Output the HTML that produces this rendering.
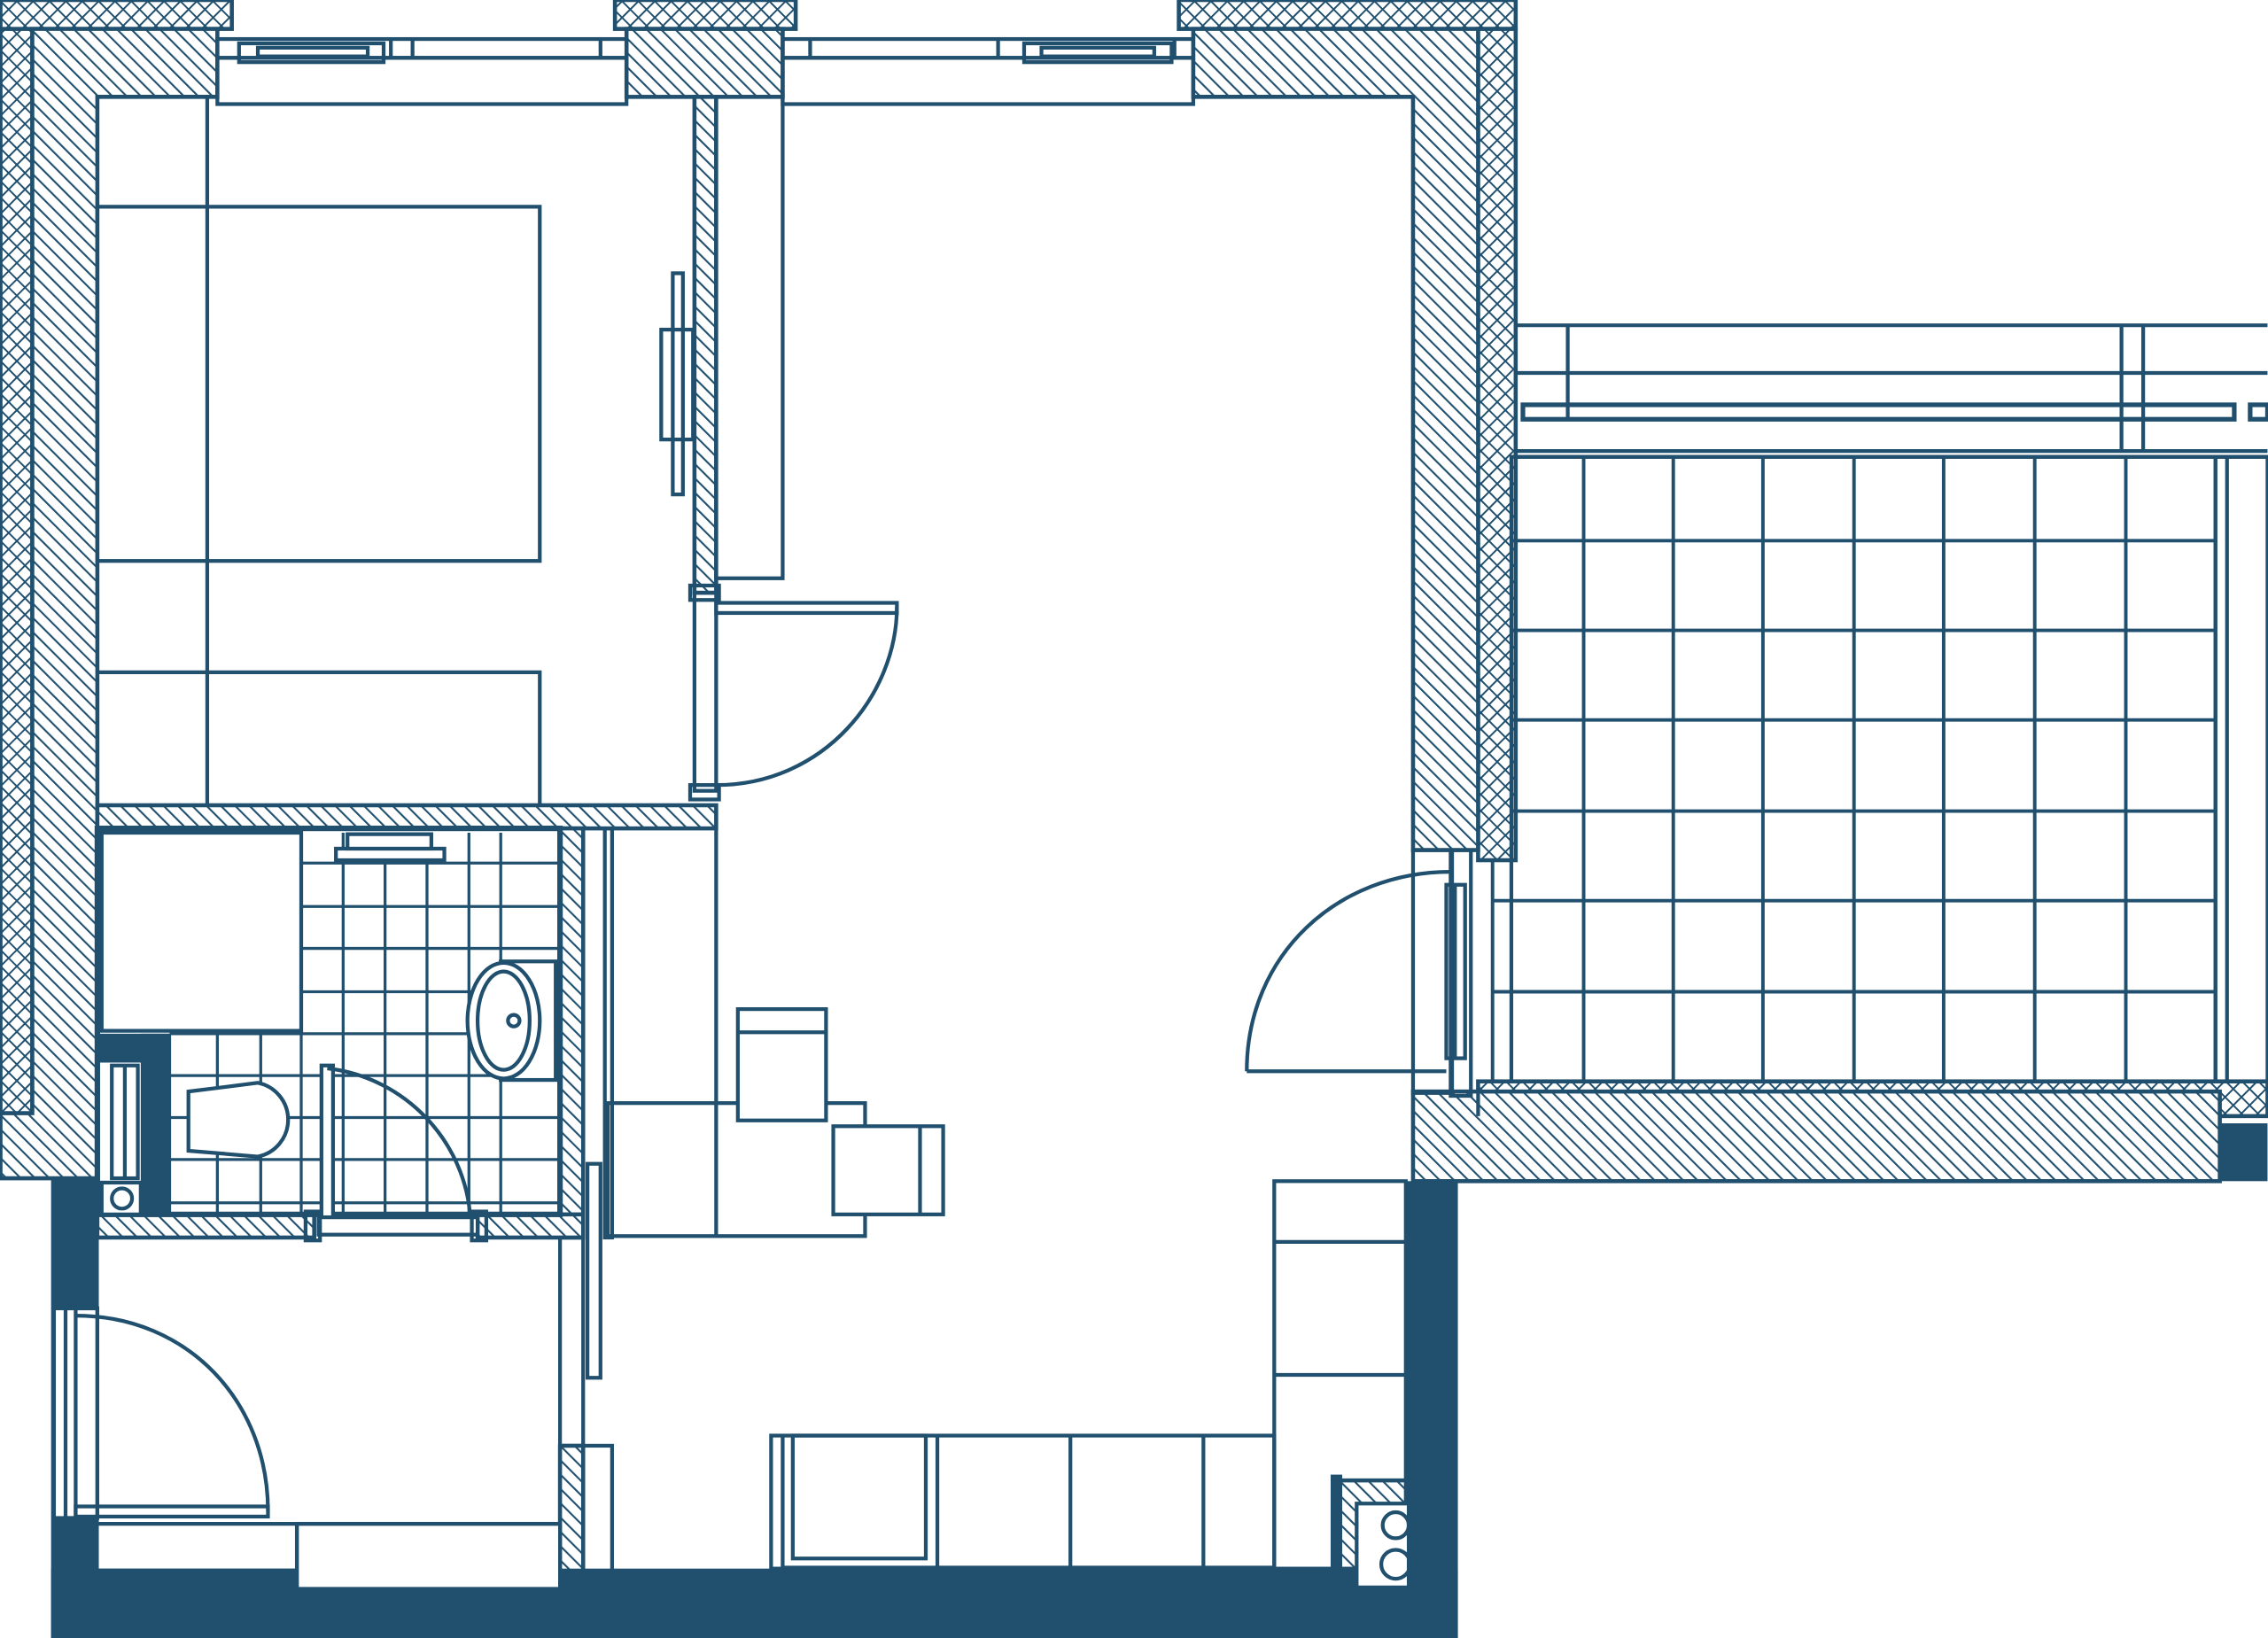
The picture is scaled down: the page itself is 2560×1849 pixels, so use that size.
<!DOCTYPE html>
<html><head><meta charset="utf-8"><style>html,body{margin:0;padding:0;background:#fff}svg{display:block}</style></head><body>
<svg width="2560" height="1849" viewBox="0 0 1568 1133" xmlns="http://www.w3.org/2000/svg" fill="none" stroke="#21506f" stroke-width="2.6">
<defs>
<pattern id="d" width="7" height="7" patternUnits="userSpaceOnUse" patternTransform="rotate(-45)"><rect width="7" height="7" fill="#fff" stroke="none"/><line x1="0" y1="0" x2="0" y2="7" stroke="#21506f" stroke-width="2.6"/></pattern>
<pattern id="x" width="8" height="8" patternUnits="userSpaceOnUse" patternTransform="rotate(45)"><rect width="8" height="8" fill="#fff" stroke="none"/><line x1="0" y1="0" x2="0" y2="8" stroke="#21506f" stroke-width="2.4"/><line x1="0" y1="0" x2="8" y2="0" stroke="#21506f" stroke-width="2.4"/></pattern>
</defs>
<g stroke-width="2.8">
<rect x="0" y="0" width="22" height="770" fill="url(#x)"/>
<rect x="0" y="0" width="160" height="20" fill="url(#x)"/>
<rect x="425" y="0" width="125" height="20" fill="url(#x)"/>
<rect x="815" y="0" width="233" height="20" fill="url(#x)"/>
<rect x="1022" y="20" width="26" height="575" fill="url(#x)"/>
<rect x="1022" y="748" width="546" height="24" fill="url(#x)"/>
<path d="M22 20 H150 V67 H67 V815 H0 V770 H22 Z" fill="url(#d)"/>
<rect x="433" y="20" width="108" height="47" fill="url(#d)"/>
<path d="M825 20 H1022 V588 H977 V67 H825 Z" fill="url(#d)"/>
<rect x="480" y="67" width="15" height="343" fill="url(#d)"/>
<rect x="67" y="557" width="428" height="16" fill="url(#d)"/>
<rect x="387" y="573" width="16" height="283" fill="url(#d)"/>
<rect x="67" y="840" width="150" height="16" fill="url(#d)"/>
<rect x="330" y="840" width="73" height="16" fill="url(#d)"/>
<rect x="387" y="1000" width="16" height="100" fill="url(#d)"/>
<rect x="926" y="1024" width="50" height="76" fill="url(#d)"/>
<rect x="977" y="755" width="558" height="62" fill="url(#d)"/>
</g>
<g fill="#21506f" stroke="none">
<rect x="35" y="815" width="33" height="318"/>
<rect x="35" y="1085" width="973" height="48"/>
<rect x="972" y="817" width="36" height="316"/>
<rect x="68" y="1085" width="137" height="14" />
<rect x="1535" y="777" width="33" height="40"/>
<rect x="97" y="715" width="20" height="125"/>
<rect x="67" y="715" width="50" height="20"/>
<rect x="920" y="1020" width="8" height="80"/>
</g>
<rect x="205" y="1054" width="182" height="45" fill="#fff"/>
<rect x="541" y="1083" width="340" height="10" fill="#21506f" stroke="none"/>
<rect x="150" y="27" width="283" height="13"/><rect x="150" y="40" width="283" height="32"/>
<rect x="165" y="30" width="100" height="13"/><rect x="178" y="33" width="76" height="6"/>
<line x1="270" y1="27" x2="270" y2="40"/><line x1="285" y1="27" x2="285" y2="40"/><line x1="415" y1="27" x2="415" y2="40"/>
<rect x="541" y="27" width="284" height="13"/><rect x="541" y="40" width="284" height="32"/>
<rect x="708" y="30" width="102" height="13"/><rect x="720" y="33" width="78" height="6"/>
<line x1="560" y1="27" x2="560" y2="40"/><line x1="690" y1="27" x2="690" y2="40"/><line x1="812" y1="27" x2="812" y2="40"/>
<line x1="143" y1="67" x2="143" y2="557"/>
<rect x="67" y="143" width="306" height="245"/>
<path d="M67 465 H373 V557"/>
<rect x="465" y="189" width="7" height="153"/><rect x="457" y="228" width="22" height="76"/>
<rect x="495" y="67" width="46" height="333"/>
<rect x="480" y="410" width="15" height="137"/>
<rect x="495" y="417" width="125" height="7"/>
<path d="M620 420 C620 480 570 543 495 543"/>
<rect x="477" y="405" width="20" height="10"/><rect x="477" y="543" width="20" height="10"/>
<rect x="67" y="573" width="320" height="267" stroke-width="3.8"/>
<rect x="70" y="576" width="138" height="137"/>
<g stroke-width="2">
<path d="M208 576 V840 M237 576 V840 M266 576 V840 M295 576 V840 M324 576 V840 M346 576 V840 M117 715 V840 M150 715 V840 M180 715 V840"/>
<path d="M208 597 H387 M208 627 H387 M208 656 H387 M208 686 H387 M117 715 H387 M117 744 H387 M117 773 H387 M117 802 H387 M117 832 H387"/>
</g>
<rect x="232" y="587" width="75" height="8" fill="#fff"/><rect x="240" y="577" width="58" height="10" fill="#fff"/>
<rect x="346" y="665" width="38" height="82" fill="#fff"/>
<ellipse cx="348" cy="706" rx="25" ry="40" fill="#fff"/><ellipse cx="348" cy="706" rx="18" ry="34"/>
<circle cx="355" cy="706" r="4"/>
<path d="M130 755 L178 749 A26 26 0 0 1 178 800 L130 796 Z" fill="#fff"/>
<rect x="77" y="737" width="18" height="78" fill="#fff"/><line x1="86" y1="737" x2="86" y2="815"/>
<rect x="70" y="818" width="27" height="22" fill="#fff"/><circle cx="84" cy="829" r="7"/>
<rect x="222" y="737" width="8" height="105" fill="#fff"/>
<path d="M226 739 C280 745 322 790 325 843"/>
<rect x="220" y="842" width="110" height="12" fill="#fff"/>
<rect x="211" y="838" width="10" height="20"/><rect x="326" y="838" width="10" height="20"/>
<line x1="403" y1="573" x2="403" y2="1100"/><line x1="387" y1="856" x2="387" y2="1000"/>
<rect x="418" y="573" width="5" height="283"/>
<rect x="406" y="805" width="9" height="148"/>
<rect x="403" y="1000" width="20" height="100"/>
<line x1="495" y1="573" x2="495" y2="855"/>
<path d="M67 1054 H387 M205 1054 V1099"/>
<rect x="37" y="905" width="30" height="145" fill="#fff"/>
<rect x="45" y="905" width="22" height="145"/><line x1="52" y1="905" x2="52" y2="1050"/>
<rect x="52" y="1042" width="133" height="7"/>
<path d="M52 910 C130 910 185 970 185 1045"/>
<rect x="420" y="763" width="178" height="92"/>
<rect x="510" y="698" width="61" height="77" fill="#fff"/><line x1="510" y1="714" x2="571" y2="714"/>
<rect x="576" y="779" width="76" height="61" fill="#fff"/><line x1="636" y1="779" x2="636" y2="840"/>
<rect x="533" y="993" width="348" height="92"/>
<path d="M541 993 V1085 M648 993 V1085 M740 993 V1085 M832 993 V1085"/>
<rect x="548" y="993" width="92" height="85"/>
<rect x="881" y="817" width="91" height="268"/>
<path d="M881 859 H972 M881 951 H972"/>
<rect x="938" y="1040" width="36" height="58" fill="#fff"/>
<circle cx="965" cy="1055" r="9"/><circle cx="965" cy="1082" r="10"/>
<rect x="977" y="588" width="27" height="168"/>
<rect x="1000" y="612" width="13" height="120"/><line x1="1006" y1="612" x2="1006" y2="732"/>
<rect x="1003" y="588" width="14" height="170"/>
<path d="M862 741 H1000 M862 741 C862 660 925 603 1003 603"/>
<rect x="1045" y="316" width="487" height="432"/>
<g stroke-width="2.4">
<path d="M1095 316 V748 M1157 316 V748 M1219 316 V748 M1282 316 V748 M1344 316 V748 M1407 316 V748 M1470 316 V748"/>
<path d="M1045 374 H1532 M1045 436 H1532 M1045 498 H1532 M1045 561 H1532 M1045 623 H1532 M1045 686 H1532"/>
<path d="M1032 596 V748 M1032 623 H1045 M1032 686 H1045"/>
</g>
<rect x="1532" y="316" width="36" height="432"/><line x1="1540" y1="316" x2="1540" y2="748"/>
<path d="M1048 225 H1568 M1048 258 H1568 M1048 312 H1568 M1048 316 H1568 M1084 225 V290 M1467 225 V312 M1482 225 V312"/>
<rect x="1053" y="280" width="492" height="10" stroke-width="3.2"/>
<rect x="1556" y="280" width="12" height="10" stroke-width="3.2"/>
<line x1="1022" y1="772" x2="1022" y2="755"/>
</svg>
</body></html>
